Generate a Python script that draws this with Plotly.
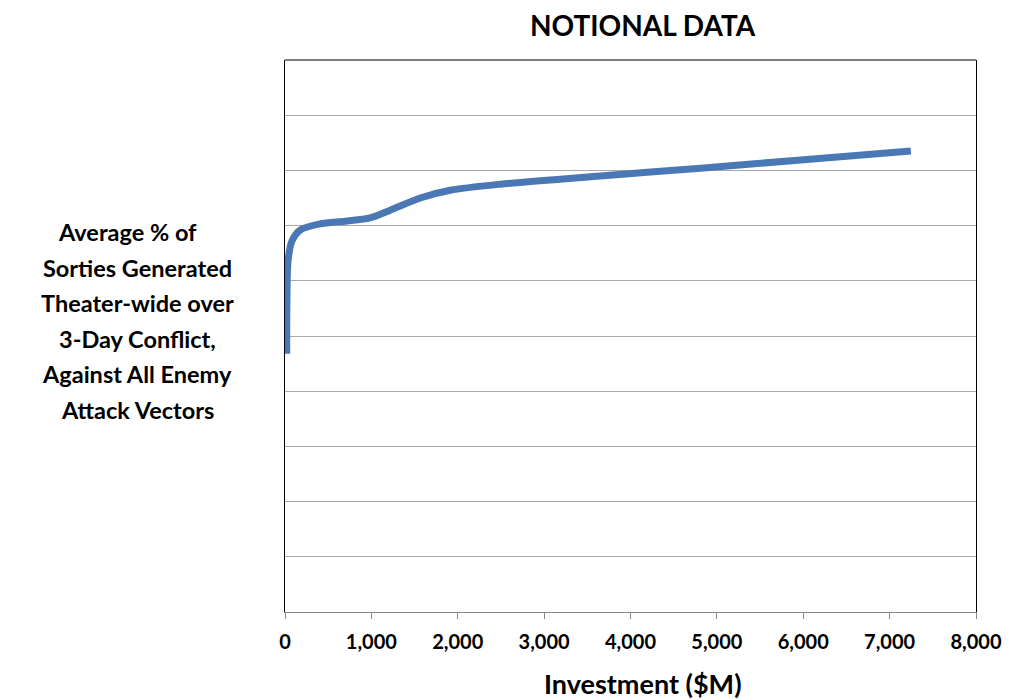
import plotly.graph_objects as go

# values
investment = [20, 22, 35, 80, 175, 405, 695, 985, 1217, 1565, 1913, 2493, 3652, 4812, 5971, 7246]
sorties_pct = [46.8, 56.0, 63.5, 67.2, 69.2, 70.3, 70.8, 71.4, 72.8, 75.0, 76.4, 77.5, 79.0, 80.4, 81.9, 83.5]

x_ticks = [0, 1000, 2000, 3000, 4000, 5000, 6000, 7000, 8000]
x_tick_text = ['0', '1,000', '2,000', '3,000', '4,000', '5,000', '6,000', '7,000', '8,000']

y_title_lines = ['Average % of', 'Sorties Generated', 'Theater-wide over',
                 '3-Day Conflict,', 'Against All Enemy', 'Attack Vectors']

FONT = 'Lato'
W, H = 1015, 700
# the page body adds an 8px offset, so positions below are in figure pixels
L, R, T, B = 277, 47, 52, 96
PW, PH = W - L - R, H - T - B


def px_x(x):
    return (x - L) / PW


def px_y(y):
    return (H - B - y) / PH


fig = go.Figure()
fig.add_trace(go.Scatter(
    x=investment, y=sorties_pct, mode='lines',
    line=dict(color='#4a78b4', width=7, shape='spline', smoothing=0.8),
    hoverinfo='skip', showlegend=False,
))

annotations = []
for i, line in enumerate(y_title_lines):
    cx = 119 if i == 0 else 129
    annotations.append(dict(text='<b>%s</b>' % line, xref='paper', yref='paper',
                            x=px_x(cx), y=px_y(224 + i * 35.5), xanchor='center', yanchor='middle',
                            showarrow=False, font=dict(size=23.5, family=FONT, color='black')))
annotations.append(dict(text='<b>Investment ($M)</b>', xref='paper', yref='paper',
                        x=px_x(635), y=px_y(675), xanchor='center', yanchor='middle',
                        showarrow=False, font=dict(size=27, family=FONT, color='black')))
annotations.append(dict(text='<b>NOTIONAL DATA</b>', xref='paper', yref='paper',
                        x=px_x(635), y=px_y(17), xanchor='center', yanchor='middle',
                        showarrow=False, font=dict(size=28, family=FONT, color='black')))

fig.update_layout(
    width=W, height=H,
    margin=dict(l=L, r=R, t=T, b=B),
    paper_bgcolor='white', plot_bgcolor='white',
    font=dict(family=FONT, color='black'),
    xaxis=dict(range=[0, 8000], tickvals=x_ticks, ticktext=['<b>%s</b>' % t for t in x_tick_text],
               tickfont=dict(size=20, family=FONT), ticks='outside', ticklen=6,
               tickcolor='#888', showline=True, linecolor='#888', linewidth=1,
               ticklabelstandoff=6, showgrid=False, zeroline=False),
    yaxis=dict(range=[0, 100], dtick=10, showticklabels=False, ticks='',
               showline=True, linecolor='black', linewidth=1, mirror=True,
               showgrid=True, gridcolor='#aaaaaa', gridwidth=1, zeroline=False),
    shapes=[dict(type='line', xref='paper', yref='paper', x0=0, x1=1, y0=1, y1=1,
                 line=dict(color='#555', width=1.5))],
    annotations=annotations,
)

fig.write_html('out.html')
